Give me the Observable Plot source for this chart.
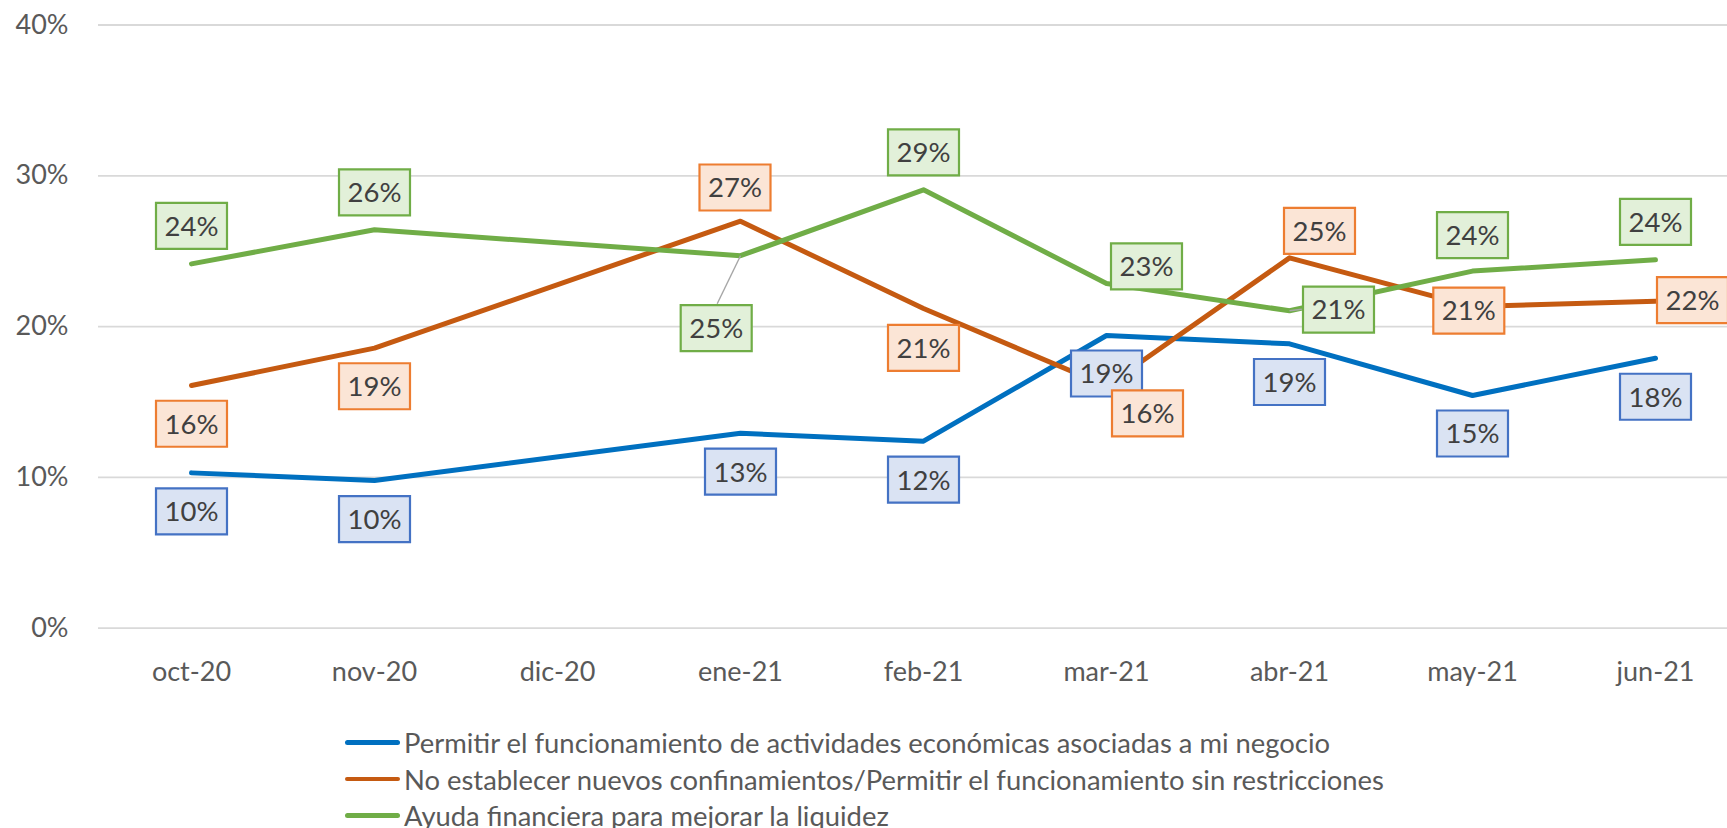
<!DOCTYPE html>
<html><head><meta charset="utf-8">
<script src="https://cdn.jsdelivr.net/npm/d3@7"></script>
<script src="https://cdn.jsdelivr.net/npm/@observablehq/plot@0.6"></script>
<style>
body{margin:0;background:#fff;width:1727px;height:828px;overflow:hidden;font-family:Lato,sans-serif}
#legend{margin-left:345px}
.row{display:flex;align-items:center;height:36.7px;font-size:27.4px;color:#595959;white-space:nowrap}
.sw{width:55px;height:4.5px;border-radius:2.5px;margin-right:4px;flex:none}
svg{display:block}
</style></head><body><div id="chart"></div><div id="legend"></div>
<script>
// ---- data ----
const months = ["oct-20","nov-20","dic-20","ene-21","feb-21","mar-21","abr-21","may-21","jun-21"];
const seriesNames = [
  "Permitir el funcionamiento de actividades económicas asociadas a mi negocio",
  "No establecer nuevos confinamientos/Permitir el funcionamiento sin restricciones",
  "Ayuda financiera para mejorar la liquidez"
];
const permitir   = [0.1030, 0.0979, null, 0.1293, 0.1240, 0.1941, 0.1886, 0.1543, 0.1790];
const noConfinar = [0.1609, 0.1857, null, 0.2699, 0.2120, 0.1606, 0.2456, 0.2133, 0.2168];
const ayuda      = [0.2416, 0.2642, null, 0.2470, 0.2907, 0.2286, 0.2105, 0.2368, 0.2443];
const yTicks = [0, 0.1, 0.2, 0.3, 0.4];

// ---- styles / layout ----
const lineColors = ["#0070C0", "#C55A11", "#70AD47"];
const boxFills   = ["#DAE3F3", "#FBE5D6", "#E2F0D9"];
const boxStrokes = ["#4472C4", "#ED7D31", "#70AD47"];
// label offsets in px relative to each point
const labelOffsets = [
  [[0,38.5],[0,38.5],null,[0,38.5],[0,38.5],[0,38],[0,38.2],[0,38],[0,38.5]],
  [[0,38.2],[0,38.1],null,[-5.5,-33.7],[0,39.3],[41,27.3],[30,-27],[-3.7,4],[37,-1.2]],
  [[0,-38],[0,-37.5],null,[-24.3,72.5],[0,-37.5],[40,-17],[49,-1.2],[0,-36],[0,-38]]
];
const leaders = [ // [series, monthIndex, x2, y2]
  [2, 3, -23.3, 48],
  [2, 6, 12.5, -1.5]
];

const values = [permitir, noConfinar, ayuda];
const tidy = values.flatMap((vals, i) =>
  months.map((m, j) => ({month: m, value: vals[j], series: seriesNames[i], si: i, mi: j}))
        .filter(d => d.value != null));

const boxSymbol = {draw(ctx) { ctx.moveTo(-35.5,-23); ctx.lineTo(35.5,-23); ctx.lineTo(35.5,23); ctx.lineTo(-35.5,23); ctx.closePath(); }};
const leaderSymbol = (x2, y2) => ({draw(ctx) { ctx.moveTo(0,0); ctx.lineTo(x2,y2); }});

const fmt = d3.format(".0%");
const labelMarks = tidy.flatMap(d => {
  const [dx, dy] = labelOffsets[d.si][d.mi];
  return [
    Plot.dot([d], {x: "month", y: "value", symbol: boxSymbol, r: 5, fill: boxFills[d.si], stroke: boxStrokes[d.si], strokeWidth: 2.2, dx, dy}),
    Plot.text([d], {x: "month", y: "value", text: v => fmt(v.value), dx, dy: dy + 1, fill: "#404040", fontSize: 27.5})
  ];
});
const leaderMarks = leaders.map(([si, mi, x2, y2]) => {
  const d = tidy.find(t => t.si === si && t.mi === mi);
  return Plot.dot([d], {x: "month", y: "value", symbol: leaderSymbol(x2, y2), r: 5, fill: "none", stroke: "#a6a6a6", strokeWidth: 1.4});
});

const chart = Plot.plot({
  width: 1727,
  height: 724,
  marginLeft: 98,
  marginRight: 0,
  marginTop: 24.5,
  marginBottom: 96.3,
  style: {fontFamily: "Lato, sans-serif", fontSize: "27px", color: "#595959", background: "#fff"},
  x: {type: "point", domain: months, range: [189.4, 1656], padding: 0},
  y: {domain: [0, 0.4], range: [627.7, 24.5]},
  color: {domain: seriesNames, range: lineColors},
  marks: [
    Plot.ruleY(yTicks, {stroke: "#d9d9d9", strokeWidth: 1.8}),
    Plot.axisY(yTicks, {tickSize: 0, tickPadding: 30, tickFormat: fmt, fontSize: 27, label: null}),
    Plot.axisX({tickSize: 0, tickPadding: 34, fontSize: 27, label: null}),
    Plot.line(tidy, {x: "month", y: "value", z: "series", stroke: "series", strokeWidth: 5, strokeLinecap: "round", strokeLinejoin: "round"}),
    ...leaderMarks,
    ...labelMarks
  ]
});
document.getElementById("chart").appendChild(chart);

const legend = document.getElementById("legend");
seriesNames.forEach((name, i) => {
  const row = document.createElement("div");
  row.className = "row";
  const sw = document.createElement("span");
  sw.className = "sw";
  sw.style.background = lineColors[i];
  const t = document.createElement("span");
  t.textContent = name;
  row.appendChild(sw); row.appendChild(t);
  legend.appendChild(row);
});
</script>
</body></html>
